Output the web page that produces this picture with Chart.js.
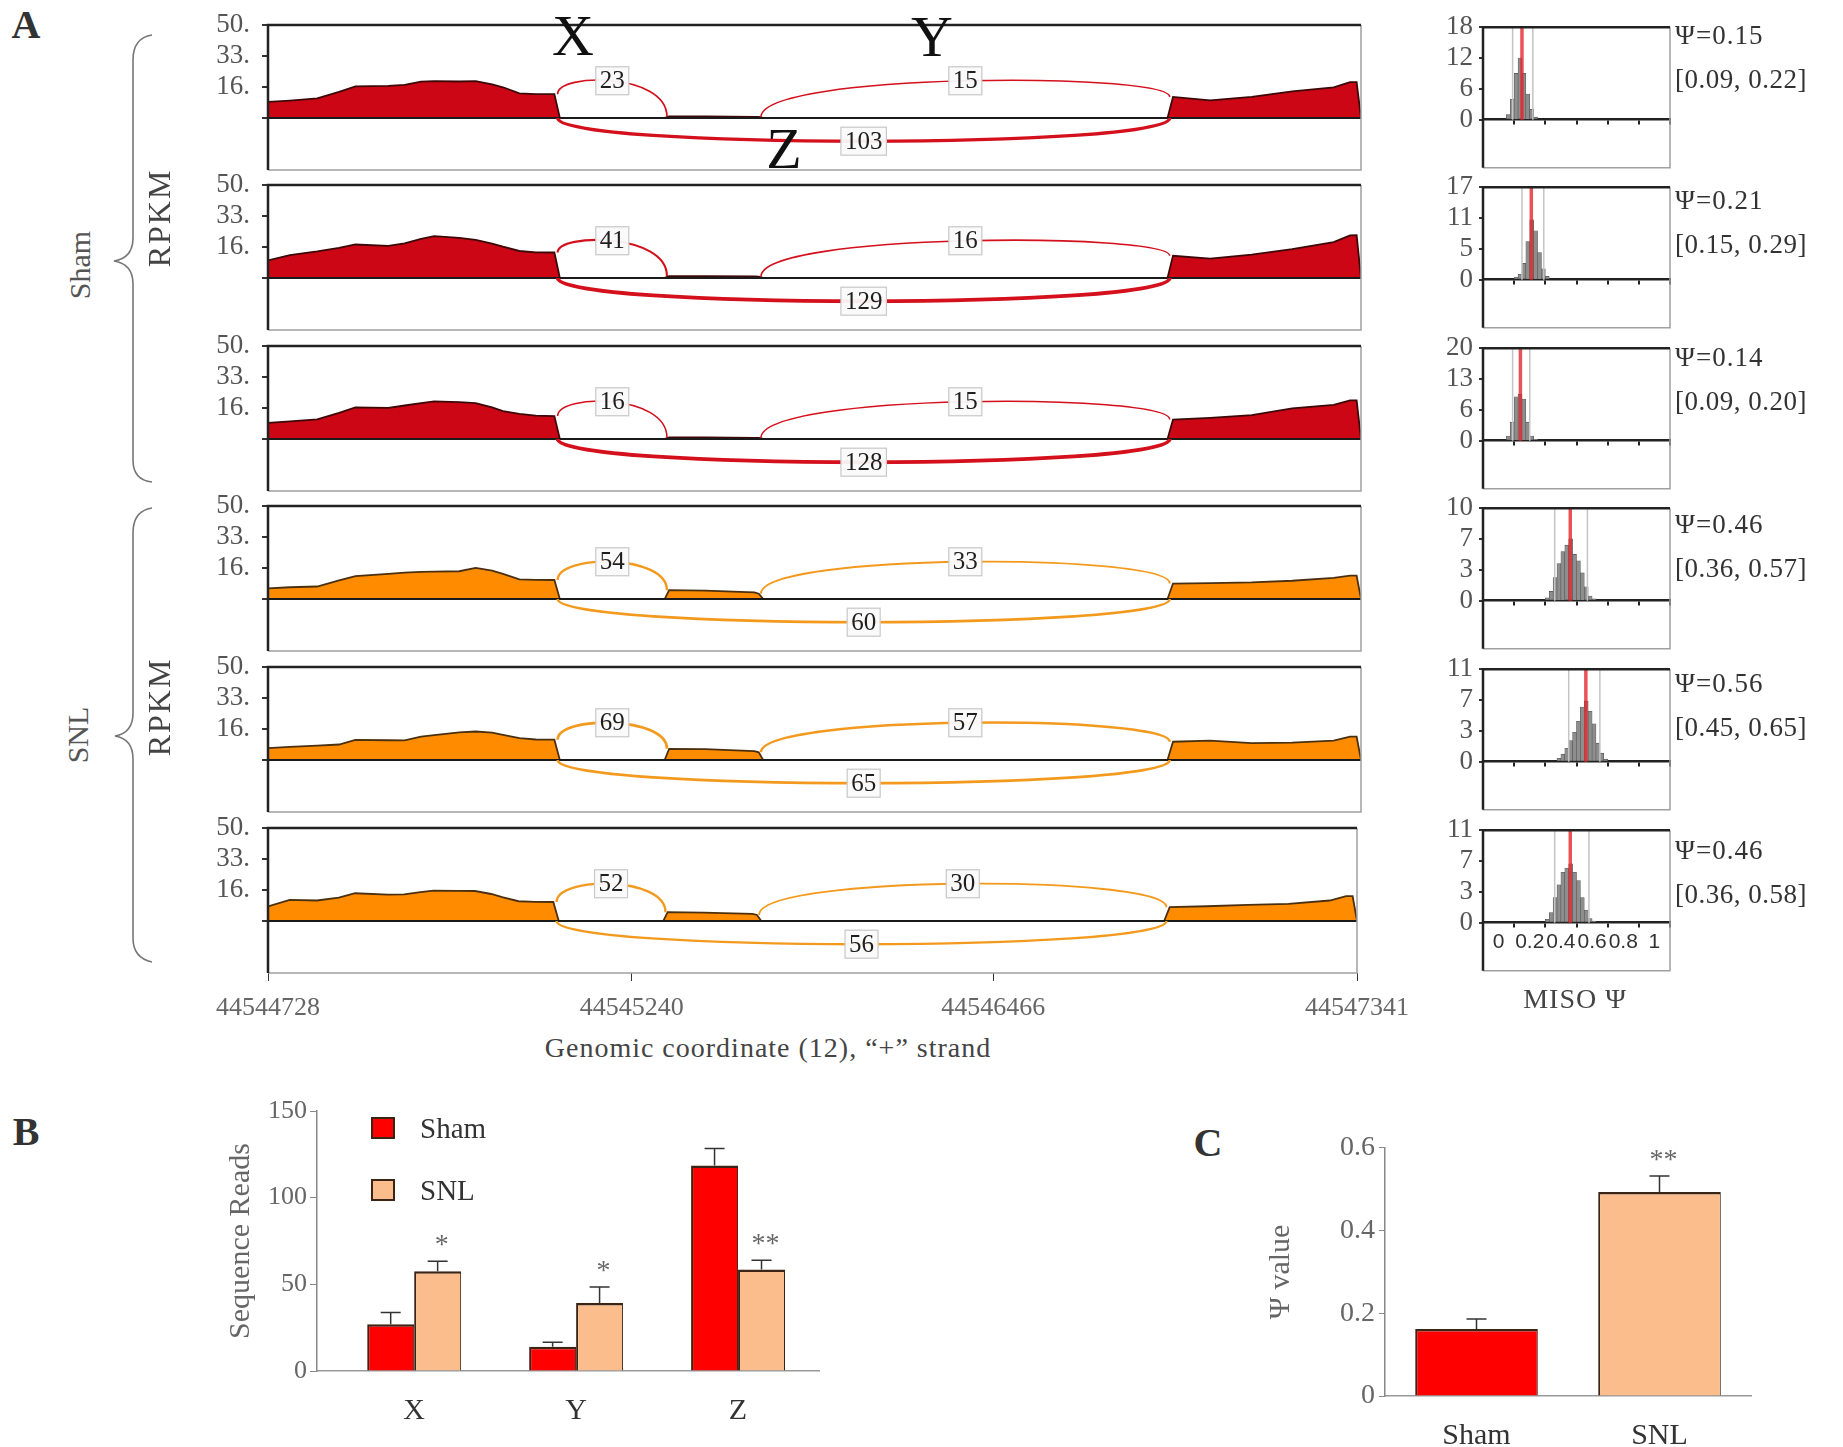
<!DOCTYPE html>
<html>
<head>
<meta charset="utf-8">
<script src="https://cdn.jsdelivr.net/npm/chart.js@4.4.1/dist/chart.umd.min.js"></script>
<style>
body{margin:0;background:#fff;width:1843px;height:1447px;position:relative;overflow:hidden;font-family:'Liberation Serif',serif;color:#333}
canvas{position:absolute}
.t{position:absolute;white-space:nowrap;line-height:1;transform:translate(-50%,-50%)}
.l{position:absolute;white-space:nowrap;line-height:1;transform:translate(0,-50%)}
.rot{transform:translate(-50%,-50%) rotate(-90deg)}
.box{position:absolute;width:24px;height:22px;box-sizing:border-box;border:2px solid #3a2416}
</style>
</head>
<body>
<svg width="200" height="1000" style="position:absolute;left:0;top:0" fill="none" stroke="#777" stroke-width="1.6">
  <path d="M152,35 Q133,38 133,60 L133,238 Q133,258 114,261 Q133,264 133,284 L133,460 Q133,480 152,482"/>
  <path d="M152,508 Q133,511 133,533 L133,713 Q133,733 115,736 Q133,739 133,759 L133,938 Q133,958 152,962"/>
</svg>
<script>
// ---- A: coverage (RPKM), x in compressed plot units 0..1000
const covX = [0,20,45,65,80,110,125,140,152,175,190,205,215,230,245,262,267,363,367,400,445,449,453,823,828,862,900,937,975,990,996,1000];
const covSham1 = [8.6,9.3,10.5,14,17,17.2,17.8,19.5,19.8,19.6,19.8,18,16.5,13.2,12.8,12.8,0,0,0.8,0.8,0.6,0.5,0,0,11.3,9.5,11.3,14.3,16.4,19.3,19.3,0];
const covSham2 = [9.4,12.3,14.3,16.2,18,17.3,18.6,21,22.5,21.6,20.5,18.5,16.8,14.5,13.8,13.7,0,0,1,1,0.8,0.7,0,0,11.9,10.4,12.5,15.5,19.3,22.9,23,0];
const covSham3 = [8.6,9.5,10.5,14,17,16.7,18,19.3,20.2,19.8,19.3,17,15,13.5,12.5,12.3,0,0,0.8,0.8,0.6,0.5,0,0,10.4,11.3,12.8,16.4,18.3,20.8,20.8,0];
const covSnl1 = [5.7,6.3,6.7,10,12.3,13.5,14.2,14.6,14.7,14.9,16.7,15.2,13.5,10.5,10.3,10.2,0,0,4.7,4.5,3.5,2.8,0,0,8.3,8.5,8.9,9.8,11.3,12.5,12.5,0];
const covSnl2 = [6.4,7,7.7,8.3,10.8,10.6,10.5,12.6,13.4,14.8,15.3,14.7,13.5,11.7,11,10.9,0,0,6,5.8,4.8,4.1,0,0,9.8,10.4,9,9.3,10.4,12.5,12.5,0];
const covSnl3 = [7.8,11.3,11,12.5,14.9,14.2,14.3,15.5,16.3,16.2,16.1,14.5,12.8,10.6,10.3,10.2,0,0,4.7,4.5,3.8,3.2,0,0,7.4,7.9,8.6,9.2,11,13.3,13.3,0];

// junctions X, Y, Z (X,Y above the track, Z below)
const junctionNames = ['X','Y','Z'];
const junctionStart = [265,451,265];
const junctionEnd = [365,825,825];
const junctionSide = [1,1,-1];
const readsSham1 = [23,15,103];
const readsSham2 = [41,16,129];
const readsSham3 = [16,15,128];
const readsSnl1 = [54,33,60];
const readsSnl2 = [69,57,65];
const readsSnl3 = [52,30,56];

const rpkmTickPos = [0,16.67,33.33,50];
const rpkmTicks = ['','16.','33.','50.'];
const genomicTickPos = [0,334,666,1000];
const genomicTicks = ['44544728','44545240','44546466','44547341'];

// ---- A: MISO psi posterior histograms
const psiBins = [0.0625,0.0875,0.1125,0.1375,0.1625,0.1875,0.2125,0.2375,0.2625,0.2875,0.3125,0.3375,0.3625,0.3875,0.4125,0.4375,0.4625,0.4875,0.5125,0.5375,0.5625,0.5875,0.6125,0.6375,0.6625,0.6875];
const histSham1 = [1,4,9,12,9,5,2,0.5,0,0,0,0,0,0,0,0,0,0,0,0,0,0,0,0,0,0];
const histSham2 = [0,0,0.5,1,3,7,11,9,5,2,0.6,0,0,0,0,0,0,0,0,0,0,0,0,0,0,0];
const histSham3 = [1,4,9.5,10,9,4,1,0.3,0,0,0,0,0,0,0,0,0,0,0,0,0,0,0,0,0,0];
const histSnl1 = [0,0,0,0,0,0,0,0,0,0,0.3,1,2.5,4,5.3,6,6.7,5,4.3,3,1.5,0.5,0.2,0,0,0];
const histSnl2 = [0,0,0,0,0,0,0,0,0,0,0,0,0,0.4,0.9,1.6,2.5,3.5,4.8,6.5,7.2,6,4.5,2.2,1,0.3];
const histSnl3 = [0,0,0,0,0,0,0,0,0,0,0.4,1.2,3,4.5,6,6.5,7,6,5,3,1.5,0.5,0.2,0,0,0];
const histMax = [18,17,20,10,11,11];
const histTicks = [['0','6','12','18'],['0','5','11','17'],['0','6','13','20'],['0','3','7','10'],['0','3','7','11'],['0','3','7','11']];
const psiValue = [0.15,0.21,0.14,0.46,0.56,0.46];
const psiLow = [0.09,0.15,0.09,0.36,0.45,0.36];
const psiHigh = [0.22,0.29,0.20,0.57,0.65,0.58];

// ---- B: junction reads
const readCategories = ['X','Y','Z'];
const shamMeanReads = [27,14,118.6];
const shamSemReads = [6.8,2.6,9.7];
const snlMeanReads = [57.5,39.3,58.6];
const snlSemReads = [5.8,9.1,5.3];
const readStars = ['*','*','**'];

// ---- C: psi
const psiGroups = ['Sham','SNL'];
const psiMean = [0.162,0.493];
const psiSem = [0.024,0.039];
const psiStars = ['','**'];

const FONT = 'Liberation Serif';
Chart.defaults.font.family = FONT;
Chart.defaults.color = '#444';
Chart.defaults.animation = false;
Chart.defaults.plugins.legend.display = false;
Chart.defaults.plugins.tooltip.enabled = false;

function addCanvas(left, top, w, h){
  const c = document.createElement('canvas');
  c.width = w; c.height = h;
  c.style.left = left+'px'; c.style.top = top+'px';
  c.style.width = w+'px'; c.style.height = h+'px';
  document.body.appendChild(c);
  return c;
}
function addText(txt, x, y, size, cls, extra){
  const d = document.createElement('div');
  d.className = cls || 't';
  d.textContent = txt;
  d.style.left = x+'px'; d.style.top = y+'px';
  d.style.fontSize = size+'px';
  if (extra) Object.assign(d.style, extra);
  document.body.appendChild(d);
  return d;
}

// plot frame
const frame = {
  id:'frame',
  afterDraw(chart, args, opts){
    if(!opts.on) return;
    const {ctx, chartArea:a} = chart;
    ctx.save();
    ctx.lineWidth = 1.5; ctx.strokeStyle = '#a0a0a0';
    ctx.beginPath(); ctx.moveTo(a.left,a.bottom); ctx.lineTo(a.right,a.bottom); ctx.lineTo(a.right,a.top); ctx.stroke();
    ctx.lineWidth = 2.5; ctx.strokeStyle = '#222';
    ctx.beginPath(); ctx.moveTo(a.left,a.bottom); ctx.lineTo(a.left,a.top); ctx.lineTo(a.right,a.top); ctx.stroke();
    ctx.restore();
  }
};

// junction arcs of a sashimi track
const sashimi = {
  id:'sashimi',
  afterDatasetsDraw(chart, args, opts){
    if(!opts.counts) return;
    const {ctx, scales:{x, y}, chartArea:a} = chart;
    const cov = chart.data.datasets[0].data;
    const heightAt = v => { let h = 0; cov.forEach(p => { if (Math.abs(p.x - v) <= 4) h = Math.max(h, p.y); }); return h; };
    ctx.save();
    ctx.strokeStyle = '#1a1a1a'; ctx.lineWidth = 2;
    ctx.beginPath(); ctx.moveTo(a.left, y.getPixelForValue(0)); ctx.lineTo(a.right, y.getPixelForValue(0)); ctx.stroke();
    opts.counts.forEach((n, j) => {
      const side = junctionSide[j];
      const x1 = junctionStart[j], x2 = junctionEnd[j];
      const y1 = side > 0 ? heightAt(x1) : 0, y2 = side > 0 ? heightAt(x2) : 0;
      const peak = side > 0 ? 20 : -12.5;
      const c = (peak - (y1 + y2) / 8) / 0.75;
      const p1 = x.getPixelForValue(x1), p2 = x.getPixelForValue(x2);
      ctx.beginPath();
      ctx.moveTo(p1, y.getPixelForValue(y1));
      ctx.bezierCurveTo(p1, y.getPixelForValue(c), p2, y.getPixelForValue(c), p2, y.getPixelForValue(y2));
      ctx.lineWidth = Math.min(4, 1.2 + n / 45);
      ctx.strokeStyle = opts.color;
      ctx.stroke();
      const lx = (p1 + p2) / 2, ly = y.getPixelForValue(peak);
      ctx.font = '25px ' + FONT;
      const tw = ctx.measureText(String(n)).width;
      ctx.fillStyle = 'rgba(250,250,250,0.95)';
      ctx.fillRect(lx - tw/2 - 4, ly - 14, tw + 8, 28);
      ctx.strokeStyle = '#c8c8c8'; ctx.lineWidth = 1.2;
      ctx.strokeRect(lx - tw/2 - 4, ly - 14, tw + 8, 28);
      ctx.fillStyle = '#1e1e1e'; ctx.textAlign = 'center'; ctx.textBaseline = 'middle';
      ctx.fillText(String(n), lx, ly + 1);
    });
    ctx.restore();
  }
};

// psi estimate and confidence interval lines
const psiLines = {
  id:'psiLines',
  afterDatasetsDraw(chart, args, opts){
    if(opts.psi === undefined) return;
    const {ctx, scales:{x, y}, chartArea:a} = chart;
    const y0 = y.getPixelForValue(0);
    ctx.save();
    ctx.strokeStyle = '#c4c4c4'; ctx.lineWidth = 1.5;
    [opts.low, opts.high].forEach(v => { const px = x.getPixelForValue(v); ctx.beginPath(); ctx.moveTo(px, a.top); ctx.lineTo(px, y0); ctx.stroke(); });
    ctx.strokeStyle = 'rgba(228,40,45,0.8)'; ctx.lineWidth = 3.5;
    const px = x.getPixelForValue(opts.psi);
    ctx.beginPath(); ctx.moveTo(px, a.top); ctx.lineTo(px, y0); ctx.stroke();
    ctx.restore();
  }
};

// upward error bars + significance stars
const errorBars = {
  id:'errorBars',
  afterDatasetsDraw(chart, args, opts){
    if(!opts.on) return;
    const {ctx, scales:{y}} = chart;
    ctx.save();
    chart.data.datasets.forEach((ds, di) => {
      chart.getDatasetMeta(di).data.forEach((bar, k) => {
        const d = ds.data[k];
        const v = typeof d === 'object' ? d.y : d;
        const top = y.getPixelForValue(v + ds.errors[k]);
        ctx.strokeStyle = '#333'; ctx.lineWidth = 1.5;
        ctx.beginPath(); ctx.moveTo(bar.x, bar.y); ctx.lineTo(bar.x, top);
        ctx.moveTo(bar.x - 10, top); ctx.lineTo(bar.x + 10, top); ctx.stroke();
        if (ds.stars && ds.stars[k]) {
          ctx.fillStyle = '#666'; ctx.font = '28px ' + FONT;
          ctx.textAlign = 'center'; ctx.textBaseline = 'alphabetic';
          ctx.fillText(ds.stars[k], bar.x + 4, top - 8);
        }
      });
    });
    ctx.restore();
  }
};
Chart.register(frame, sashimi, psiLines, errorBars);

// ---- panel A tracks
const panelTop = [25,185,346,506,667,828];
const PANEL_H = 145;
const PAD = 32;
const covSamples = [covSham1,covSham2,covSham3,covSnl1,covSnl2,covSnl3];
const readSamples = [readsSham1,readsSham2,readsSham3,readsSnl1,readsSnl2,readsSnl3];
const histSamples = [histSham1,histSham2,histSham3,histSnl1,histSnl2,histSnl3];

covSamples.forEach((cov, i) => {
  const last = i === 5, sham = i < 3;
  const padRight = last ? 60 : 8, xH = last ? 52 : 0, padBottom = last ? 0 : PAD;
  const cv = addCanvas(188, panelTop[i] - PAD, 80 + 1093 + padRight, PAD + PANEL_H + xH + padBottom);
  new Chart(cv, {
    type:'line',
    data:{datasets:[{
      data: covX.map((x, k) => ({x, y: cov[k]})),
      fill:'origin',
      backgroundColor: sham ? '#cd0615' : '#ff8c00',
      borderColor: sham ? '#3d0808' : '#4a3010',
      borderWidth: 1.8, pointRadius: 0, tension: 0
    }]},
    options:{
      responsive:false,
      layout:{padding:{top:PAD, right:padRight, bottom:padBottom, left:0}},
      plugins:{frame:{on:true}, sashimi:{counts: readSamples[i], color: sham ? '#d4101c' : '#f39a1e'}},
      scales:{
        x:{type:'linear', min:0, max:1000, display:last,
          afterBuildTicks: s => { s.ticks = genomicTickPos.map(v => ({value:v})); },
          ticks:{autoSkip:false, maxRotation:0, callback:(v, k) => genomicTicks[k], font:{size:26}, color:'#666', padding:12},
          grid:{drawOnChartArea:false, tickLength:8, color:'#333'},
          border:{display:false},
          afterFit: s => { s.height = last ? 52 : 0; }},
        y:{min:-28, max:50,
          afterBuildTicks: s => { s.ticks = rpkmTickPos.map(v => ({value:v})); },
          ticks:{autoSkip:false, callback:(v, k) => rpkmTicks[k], font:{size:27}, color:'#555', padding:12},
          grid:{drawOnChartArea:false, tickLength:6, color:'#333', lineWidth:2},
          border:{display:false},
          afterFit: s => { s.width = 80; }}
      }
    }
  });

  // histogram
  const hc = addCanvas(1431, panelTop[i] - 20, 52 + 187 + 8, 20 + PANEL_H + 20);
  const max = histMax[i];
  new Chart(hc, {
    type:'bar',
    data:{datasets:[{
      data: psiBins.map((b, k) => ({x:b, y:histSamples[i][k]})),
      backgroundColor:'#8e8e8e', borderColor:'#555', borderWidth:0.6,
      barPercentage:1, categoryPercentage:1
    }]},
    options:{
      responsive:false,
      layout:{padding:{top:20, right:8, bottom:20, left:0}},
      plugins:{frame:{on:true}, psiLines:{psi:psiValue[i], low:psiLow[i], high:psiHigh[i]}},
      scales:{
        x:{type:'linear', min:0, max:1, position:{y:0},
          ticks:{display:last, stepSize:0.2, autoSkip:false, maxRotation:0, callback: v => String(+v.toFixed(1)),
            font:{family:'Liberation Sans', size:21}, color:'#333', padding:3},
          grid:{drawOnChartArea:false, tickLength:4, color:'#222', lineWidth:2},
          border:{color:'#222', width:2.5}},
        y:{min:-0.52*max, max:max,
          afterBuildTicks: s => { s.ticks = [0,1,2,3].map(k => ({value: max*k/3})); },
          ticks:{autoSkip:false, callback:(v, k) => histTicks[i][k], font:{size:27}, color:'#555', padding:6},
          grid:{drawOnChartArea:false, tickLength:4, color:'#333', lineWidth:2},
          border:{display:false},
          afterFit: s => { s.width = 52; }}
      }
    }
  });
  const dy = [10,15,11,18,16,22][i];
  addText('Ψ=' + psiValue[i].toFixed(2), 1675, panelTop[i] + dy, 27, 'l', {letterSpacing:'1px'});
  addText('[' + psiLow[i].toFixed(2) + ', ' + psiHigh[i].toFixed(2) + ']', 1675, panelTop[i] + dy + 44, 27, 'l', {letterSpacing:'0.5px'});
});

// ---- panel B (x as linear index so the groups sit where they do in the figure)
new Chart(addCanvas(219, 1091, 620, 330), {
  type:'bar',
  data:{datasets:[
    {label:'Sham', data:shamMeanReads.map((v, k) => ({x:k, y:v})), errors:shamSemReads, backgroundColor:'#ff0000'},
    {label:'SNL', data:snlMeanReads.map((v, k) => ({x:k, y:v})), errors:snlSemReads, stars:readStars, backgroundColor:'#fbbd8c'}
  ]},
  options:{
    responsive:false,
    layout:{padding:{top:20, right:20, bottom:0, left:0}},
    datasets:{bar:{categoryPercentage:0.58, barPercentage:1, borderColor:'#3a2416', borderWidth:{top:2.5, left:2, right:1, bottom:0}}},
    plugins:{errorBars:{on:true}},
    scales:{
      x:{type:'linear', min:-0.6, max:2.5, offset:false, grid:{display:false}, border:{color:'#999', width:1.5},
        afterBuildTicks: s => { s.ticks = readCategories.map((c, k) => ({value:k})); },
        ticks:{autoSkip:false, maxRotation:0, callback:(v, k) => readCategories[k], font:{size:30}, color:'#333', padding:14},
        afterFit: s => { s.height = 50; }},
      y:{min:0, max:150, ticks:{stepSize:50, font:{size:26}, color:'#666', padding:3},
        grid:{drawOnChartArea:false, tickLength:7, color:'#888'},
        border:{color:'#888', width:1.5},
        title:{display:true, text:'Sequence Reads', font:{size:30}, color:'#666'},
        afterFit: s => { s.width = 98; }}
    }
  }
});

// ---- panel C
new Chart(addCanvas(1259, 1127, 512, 319), {
  type:'bar',
  data:{labels: psiGroups, datasets:[
    {data:psiMean, errors:psiSem, stars:psiStars, backgroundColor:['#ff0000','#fbbd8c']}
  ]},
  options:{
    responsive:false,
    layout:{padding:{top:20, right:20, bottom:0, left:0}},
    datasets:{bar:{categoryPercentage:0.67, barPercentage:1, borderColor:'#3a2416', borderWidth:{top:2.5, left:2, right:1, bottom:0}}},
    plugins:{errorBars:{on:true}},
    scales:{
      x:{grid:{display:false}, border:{color:'#999', width:1.5},
        ticks:{font:{size:30}, color:'#333', padding:14},
        afterFit: s => { s.height = 50; }},
      y:{min:0, max:0.6, ticks:{stepSize:0.2, font:{size:28}, color:'#666', padding:4},
        grid:{drawOnChartArea:false, tickLength:6, color:'#888'},
        border:{color:'#888', width:1.5},
        title:{display:true, text:'Ψ value', font:{size:30}, color:'#666'},
        afterFit: s => { s.width = 126; }}
    }
  }
});

// ---- labels
addText('A', 26, 25, 40, 't', {fontWeight:'bold'});
addText('B', 26, 1132, 40, 't', {fontWeight:'bold'});
addText('C', 1208, 1143, 40, 't', {fontWeight:'bold'});
junctionNames.forEach((n, j) => addText(n, [573,932,784][j], [36,37,149][j], 58, 't', {color:'#111'}));
addText('RPKM', 159, 218, 32, 't rot', {letterSpacing:'2px', color:'#444'});
addText('RPKM', 159, 707, 32, 't rot', {letterSpacing:'2px', color:'#444'});
addText('Sham', 80, 265, 30, 't rot', {color:'#555'});
addText('SNL', 78, 735, 30, 't rot', {color:'#555'});
addText('Genomic coordinate (12), “+” strand', 768, 1048, 28, 't', {color:'#444', letterSpacing:'1px'});
addText('MISO Ψ', 1575, 999, 28, 't', {color:'#444', letterSpacing:'1px'});
const lg1 = document.createElement('div'); lg1.className = 'box';
Object.assign(lg1.style, {left:'371px', top:'1117px', background:'#ff0000'}); document.body.appendChild(lg1);
const lg2 = document.createElement('div'); lg2.className = 'box';
Object.assign(lg2.style, {left:'371px', top:'1179px', background:'#fbbd8c'}); document.body.appendChild(lg2);
addText('Sham', 420, 1128, 29, 'l', {color:'#333'});
addText('SNL', 420, 1190, 29, 'l', {color:'#333'});
</script>
</body>
</html>
